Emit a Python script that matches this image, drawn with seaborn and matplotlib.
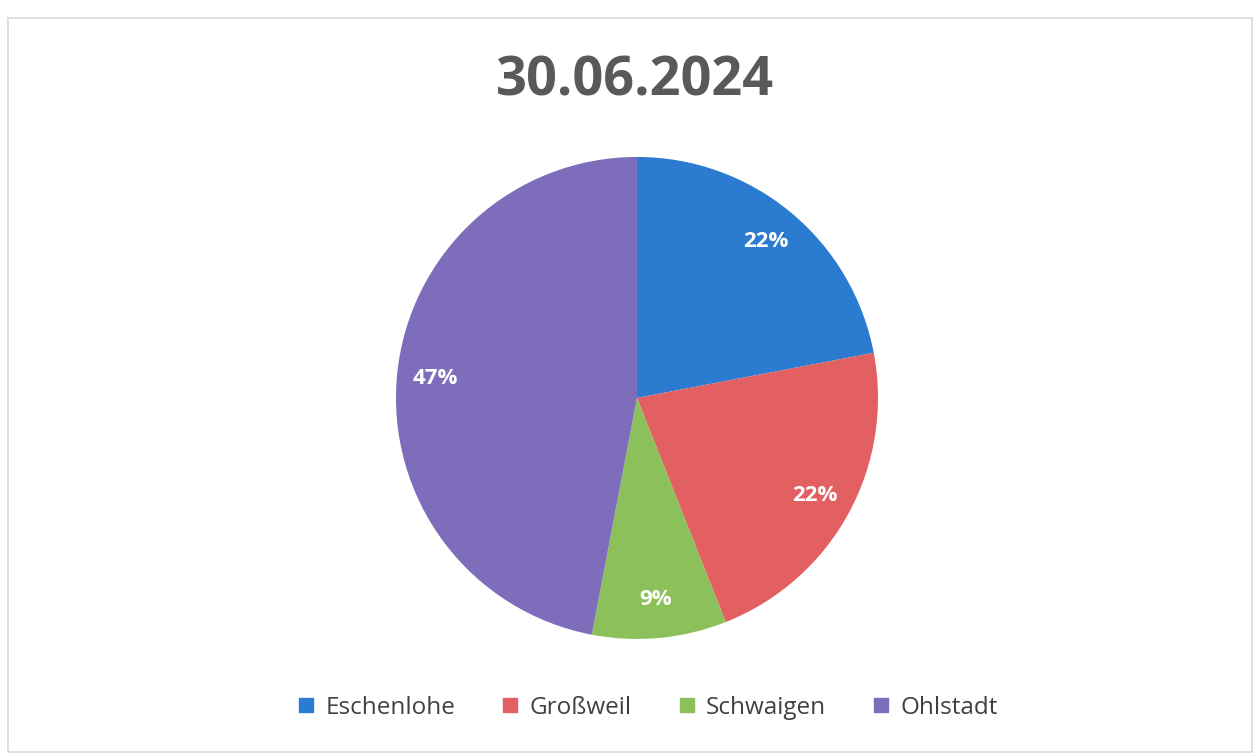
import matplotlib
matplotlib.use('Agg')
import matplotlib.pyplot as plt
import seaborn as sns
from matplotlib.patches import Rectangle
from matplotlib.lines import Line2D

# Data
orte = ['Eschenlohe', 'Großweil', 'Schwaigen', 'Ohlstadt']
anteile = [22, 22, 9, 47]
farben = ['#2B7BD0', '#E25F62', '#8CC05A', '#7E6DBB']
titel = '30.06.2024'

sns.set_theme(style='white')
plt.rcParams['font.family'] = ['Open Sans', 'DejaVu Sans']

fig = plt.figure(figsize=(12.57, 7.56), dpi=100)
ax = fig.add_axes([0.3150, 0.1548, 0.3835, 0.6376])

palette = sns.color_palette(farben)
wedges, texts = ax.pie(anteile, colors=palette, startangle=90, counterclock=False,
                       labels=[f'{a}%' for a in anteile], labeldistance=0.84,
                       wedgeprops=dict(linewidth=0),
                       textprops=dict(color='white', fontsize=16, fontweight='bold'))
for t in texts:
    t.set_ha('center')
    t.set_va('center')
ax.set_xlim(-1, 1)
ax.set_ylim(-1, 1)
ax.set_aspect('equal')
ax.axis('off')

fig.text(0.505, 0.892, titel, ha='center', va='center', fontsize=39,
         fontweight='bold', color='#595959')

handles = [Line2D([0], [0], marker='s', linestyle='', markersize=10,
                  markerfacecolor=c, markeredgecolor=c) for c in palette]
fig.legend(handles, orte, loc='center', bbox_to_anchor=(0.509, 0.064), ncol=4,
           frameon=False, fontsize=17.5, handletextpad=-0.2, columnspacing=1.25,
           labelcolor='#404040')

# frame of the chart area
fig.patches.append(Rectangle((8 / 1257, 4 / 756), 1244 / 1257, 734 / 756,
                             transform=fig.transFigure, fill=False,
                             edgecolor='#D9D9D9', linewidth=1.2))

fig.savefig('out.png', dpi=100, facecolor='white')
